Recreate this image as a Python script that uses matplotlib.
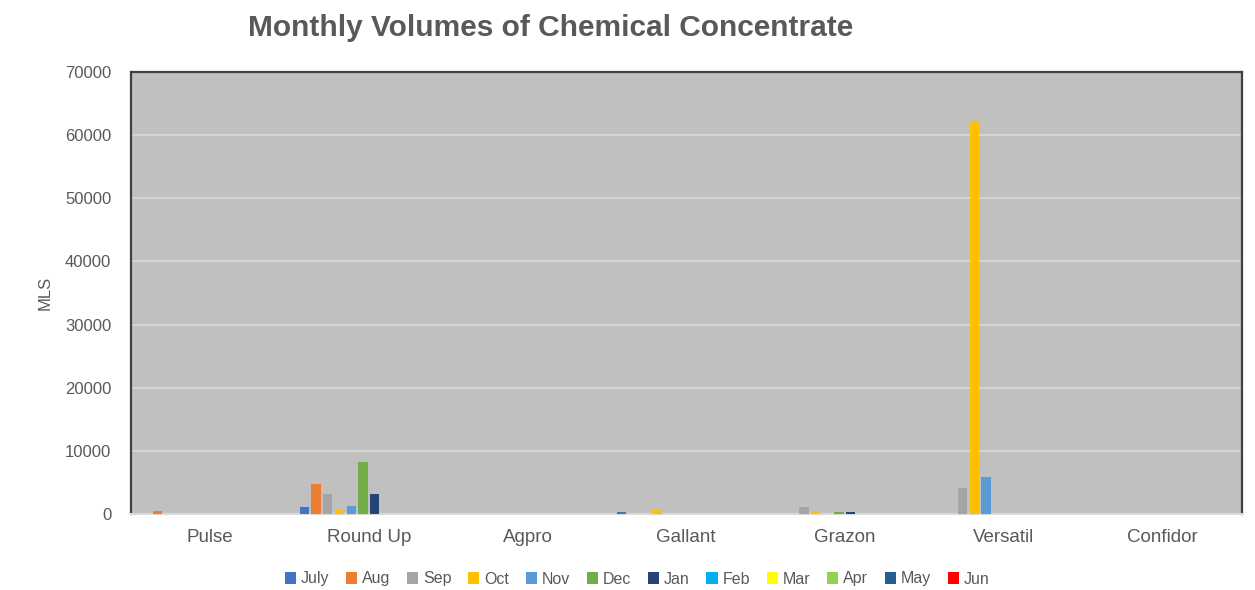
import matplotlib
matplotlib.use("Agg")
import matplotlib.pyplot as plt
import numpy as np

categories = ["Pulse", "Round Up", "Agpro", "Gallant", "Grazon", "Versatil", "Confidor"]
months = ["July", "Aug", "Sep", "Oct", "Nov", "Dec", "Jan", "Feb", "Mar", "Apr", "May", "Jun"]
colors = ["#4472C4", "#ED7D31", "#A5A5A5", "#FFC000", "#5B9BD5", "#70AD47",
          "#264478", "#00B0F0", "#FFFF00", "#92D050", "#255E91", "#FF0000"]

# values per month, one per category
july = [0, 1050, 0, 300, 0, 0, 0]
aug  = [500, 4700, 0, 0, 0, 0, 0]
sep  = [0, 3100, 0, 0, 1150, 4170, 0]
oct_ = [0, 600, 0, 750, 550, 62300, 0]
nov  = [0, 1300, 0, 0, 0, 5920, 0]
dec  = [0, 8240, 0, 0, 300, 0, 0]
jan  = [0, 3170, 0, 0, 300, 0, 0]
feb  = [0, 0, 0, 0, 0, 0, 0]
mar  = [0, 0, 0, 0, 0, 0, 0]
apr  = [0, 0, 0, 0, 0, 0, 0]
may  = [0, 0, 0, 0, 0, 0, 0]
jun  = [0, 0, 0, 0, 0, 0, 0]
series = [july, aug, sep, oct_, nov, dec, jan, feb, mar, apr, may, jun]

plt.rcParams['font.family'] = ['Liberation Sans', 'DejaVu Sans']
fig = plt.figure(figsize=(12.55, 5.9), dpi=100)
ax = fig.add_axes([130.7/1255, 76/590, 1111/1255, 442/590])
ax.set_facecolor("#C0C0C0")

x = np.arange(len(categories))
step = 11.7/158.7
width = 9.3/158.7
for i, (m, vals, c) in enumerate(zip(months, series, colors)):
    ax.bar(x + (i - 5.5)*step, vals, width=width, color=c, label=m, zorder=3)

ax.set_xlim(-0.5, len(categories) - 0.5)
ax.set_ylim(0, 70000)
ax.set_yticks(np.arange(0, 70001, 10000))
ax.yaxis.grid(True, color="#D9D9D9", lw=1.2, zorder=0)
ax.set_axisbelow(True)
ax.tick_params(axis='both', length=0, colors="#595959", labelsize=12)
ax.tick_params(axis='x', pad=11, labelsize=13.5)
ax.tick_params(axis='y', pad=14)
ax.set_xticks(x)
ax.set_xticklabels(categories)
for s in ["left", "top", "right"]:
    ax.spines[s].set_color("#404040")
    ax.spines[s].set_linewidth(1.6)
ax.spines["bottom"].set_color("#D9D9D9")
ax.spines["bottom"].set_linewidth(1.5)

fig.text(45/1255, 1 - 293/590, "MLS", rotation=90, ha="center", va="center",
         color="#595959", fontsize=12)
fig.text(551/1255, 1 - 28/590, "Monthly Volumes of Chemical Concentrate",
         ha="center", va="center", fontsize=21.5, fontweight="bold", color="#595959")

leg = fig.legend(loc="center", bbox_to_anchor=(637/1255, 1 - 579/590), ncol=12,
                 frameon=False, fontsize=11.5, handlelength=0.7, handleheight=0.7,
                 handletextpad=0.3, columnspacing=1.05, labelcolor="#595959")

fig.savefig("out.png", dpi=100, facecolor="white")
